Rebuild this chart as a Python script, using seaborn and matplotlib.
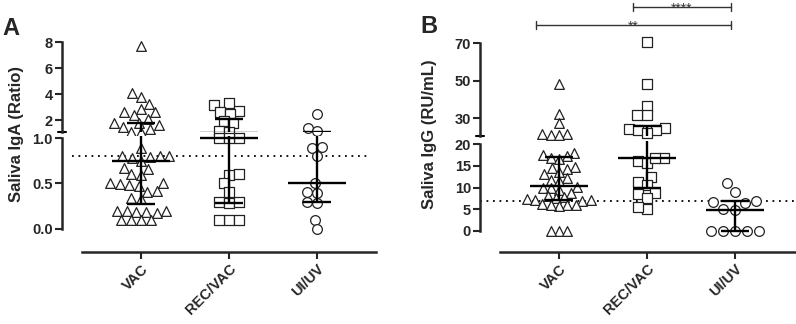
import numpy as np
import matplotlib
matplotlib.use('Agg')
import matplotlib.pyplot as plt
import matplotlib.transforms as mtransforms
import seaborn as sns

# groups and marker per group
groups = ['VAC', 'REC/VAC', 'UI/UV']
markers = ['^', 's', 'o']

# Panel A - saliva IgA (ratio)
iga_vac = [7.7, 4.1, 3.75, 3.2, 2.85, 2.6, 2.6, 2.4, 2.1, 1.8, 1.8, 1.6, 1.5, 1.3, 1.1, 1.1,
           0.89, 0.8, 0.79, 0.8, 0.78, 0.8, 0.75, 0.67, 0.66, 0.59, 0.6,
           0.48, 0.5, 0.49, 0.47, 0.5, 0.41, 0.42, 0.34, 0.33,
           0.19, 0.2, 0.19, 0.2, 0.18, 0.2, 0.1, 0.1, 0.1, 0.1]
iga_rec = [3.33, 3.15, 2.7, 2.64, 2.5, 1.95, 1.75, 1.18, 1.1,
           1.0, 1.0, 1.0, 0.59, 0.6, 0.5, 0.41, 0.3, 0.29, 0.3, 0.1, 0.1, 0.1]
iga_ui = [2.5, 1.36, 1.18, 0.89, 0.9, 0.8, 0.5, 0.41, 0.4, 0.3, 0.29, 0.1, 0.0]
iga_median = [0.75, 1.0, 0.5]
iga_q1 = [0.27, 0.29, 0.3]
iga_q3 = [1.8, 2.05, 1.1]
iga_cutoff = 0.8

# Panel B - saliva IgG (RU/mL)
igg_vac = [48, 32, 27.5, 21.5, 21, 21.5, 21,
           17.9, 17.5, 17.2, 16.8, 16.5, 14.8, 14.6, 14.2, 13.6, 13.0, 12.1, 11.8, 11.6,
           10.2, 10.0, 9.8, 9.5, 8.8, 8.0, 7.9, 7.5, 7.4, 7.2, 7.1, 7.0,
           6.1, 6.0, 5.8, 6.0, 5.9, 0, 0, 0]
igg_rec = [70.5, 48, 36.5, 31.6, 31.6, 24.8, 24.1, 23.6, 23.6, 21.8,
           16.9, 16.1, 15.6, 16.7, 12.5, 11.3, 10.6, 8.5, 8.7, 7.7, 5.0, 5.6]
igg_ui = [11.0, 9.0, 7.0, 6.6, 6.4, 5.0, 4.8, 0, 0, 0, 0, 0]
igg_median = [10.3, 16.7, 4.8]
igg_q1 = [7.1, 10.0, 0.0]
igg_q3 = [17.0, 25.7, 7.0]
igg_cutoff = 7.0

# axis ticks
iga_ticks_top = [2, 4, 6, 8]
iga_ticks_bot = [0.0, 0.5, 1.0]
iga_ticklabels_bot = ['0.0', '0.5', '1.0']
igg_ticks_top = [30, 50, 70]
igg_ticks_bot = [0, 5, 10, 15, 20]

sns.set_style('ticks')
plt.rcParams['font.family'] = ['Liberation Sans', 'DejaVu Sans']
plt.rcParams['font.weight'] = 'bold'

W, H = 796, 324
STEP = 0.8                      # group spacing on the x axis (gives the swarms room)
pos = [i * STEP for i in range(len(groups))]
fig = plt.figure(figsize=(W / 100, H / 100), dpi=100)


def box(l, t, r, b):
    return [l / W, 1 - b / H, (r - l) / W, (b - t) / H]


def draw_panel(ax_top, ax_bot, data, med, q1, q3, cut, xlim, layout_sizes):
    for i, vals in enumerate(data):
        vals = np.array(vals, dtype=float)
        for ax, sel in [(ax_top, vals > cut), (ax_bot, vals <= cut)]:
            if sel.any():
                # layout size controls the swarm spacing, markers are resized after layout
                sns.swarmplot(x=[pos[i]] * int(sel.sum()), y=vals[sel], native_scale=True,
                              orient='x', marker=markers[i], size=layout_sizes[i],
                              color='white', edgecolor='#222222', linewidth=0.9, ax=ax,
                              zorder=3, warn_thresh=1)
    for ax in (ax_top, ax_bot):
        for c in ax.collections:
            c.set_clip_on(False)
        for i, p in enumerate(pos):
            ax.hlines(med[i], p - 0.265, p + 0.265, color='black', lw=1.7, zorder=6)
            ax.hlines([q1[i], q3[i]], p - 0.125, p + 0.125, color='black', lw=1.7, zorder=6)
            ax.vlines(p, q1[i], q3[i], color='black', lw=1.7, zorder=6)
        ax.set_xlim(*xlim)
        ax.set_xlabel('')
        ax.set_ylabel('')
        ax.spines['right'].set_visible(False)
        ax.spines['top'].set_visible(False)
        ax.spines['left'].set_linewidth(1.8)
        ax.tick_params(axis='y', length=5, width=1.5, pad=1.5, labelsize=10.5)
    ax_top.spines['bottom'].set_visible(False)
    ax_top.tick_params(axis='x', bottom=False, labelbottom=False)
    ax_bot.set_xticks(pos, groups)
    ax_bot.spines['bottom'].set_linewidth(1.8)
    ax_bot.spines['bottom'].set_bounds(-0.536, xlim[1])
    ax_bot.tick_params(axis='x', length=5, width=1.5, pad=2, labelsize=10.5)
    plt.setp(ax_bot.get_xticklabels(), rotation=45, ha='right', rotation_mode='anchor',
             fontweight='bold')


# ---- Panel A ----
axA_top = fig.add_axes(box(62, 38, 376, 132))
axA_bot = fig.add_axes(box(62, 136, 376, 252))
draw_panel(axA_top, axA_bot, [iga_vac, iga_rec, iga_ui], iga_median, iga_q1, iga_q3,
           1.05, (-0.718, 2.136), [5.8, 5.8, 5.8])
axA_top.set_ylim(1.077, 8.31)
axA_bot.set_ylim(-0.253, 1.022)
axA_top.set_yticks(iga_ticks_top)
axA_bot.set_yticks(iga_ticks_bot)
axA_bot.set_yticklabels(iga_ticklabels_bot)
axA_top.spines['left'].set_bounds(1.077, 8)
axA_bot.spines['left'].set_bounds(0, 1.0)
axA_top.plot([-0.754, -0.682], [1.077, 1.077], color='black', lw=1.5, clip_on=False)
axA_bot.hlines(iga_cutoff, -0.627, 2.082, color='black', lw=1.3, linestyles=(0, (1, 2.6)), zorder=1)

# ---- Panel B ----
axB_top = fig.add_axes(box(480, 38, 796, 136))
axB_bot = fig.add_axes(box(480, 141, 796, 252))
draw_panel(axB_top, axB_bot, [igg_vac, igg_rec, igg_ui], igg_median, igg_q1, igg_q3,
           20.2, (-0.718, 2.155), [4.8, 5.6, 7.4])
axB_top.set_ylim(20.4, 72.7)
axB_bot.set_ylim(-4.83, 20.7)
axB_top.set_yticks(igg_ticks_top)
axB_bot.set_yticks(igg_ticks_bot)
axB_top.spines['left'].set_bounds(20.4, 70)
axB_bot.spines['left'].set_bounds(0, 20)
axB_top.plot([-0.754, -0.682], [20.4, 20.4], color='black', lw=1.5, clip_on=False)
axB_bot.axhline(igg_cutoff, color='black', lw=1.3, ls=(0, (1, 2.6)), zorder=1)

# significance brackets
tr = mtransforms.blended_transform_factory(axB_top.transData, fig.transFigure)
brackets = [(-0.209, 1.564, 25, '**'), (0.673, 1.564, 7, '****')]
for x0, x1, ypx, label in brackets:
    y = 1 - ypx / H
    d = 4 / H
    axB_top.plot([x0, x1], [y, y], color='#333333', lw=1.0, transform=tr, clip_on=False)
    axB_top.plot([x0, x0], [y - d, y + d], color='#333333', lw=1.0, transform=tr, clip_on=False)
    axB_top.plot([x1, x1], [y - d, y + d], color='#333333', lw=1.0, transform=tr, clip_on=False)
    axB_top.text((x0 + x1) / 2, 1 - (ypx + 6) / H, label, transform=tr, ha='center',
                 va='baseline', fontsize=10, fontweight='normal', color='#333333')

# labels
fig.text(17 / W, 1 - 134 / H, 'Saliva IgA (Ratio)', rotation=90, ha='center', va='center',
         fontsize=12, fontweight='bold')
fig.text(430 / W, 1 - 134 / H, 'Saliva IgG (RU/mL)', rotation=90, ha='center', va='center',
         fontsize=12, fontweight='bold')
fig.text(2 / W, 1 - 35 / H, 'A', fontsize=17, fontweight='bold', ha='left', va='baseline')
fig.text(420 / W, 1 - 33 / H, 'B', fontsize=17, fontweight='bold', ha='left', va='baseline')

# run the swarm layout once, then freeze it and draw the markers at full size
fig.canvas.draw()
for ax in (axA_top, axA_bot, axB_top, axB_bot):
    for c in ax.collections:
        if 'draw' in c.__dict__:
            del c.draw
            c.set_sizes([7.0 ** 2])

fig.savefig('out.png', dpi=100, facecolor='white')
